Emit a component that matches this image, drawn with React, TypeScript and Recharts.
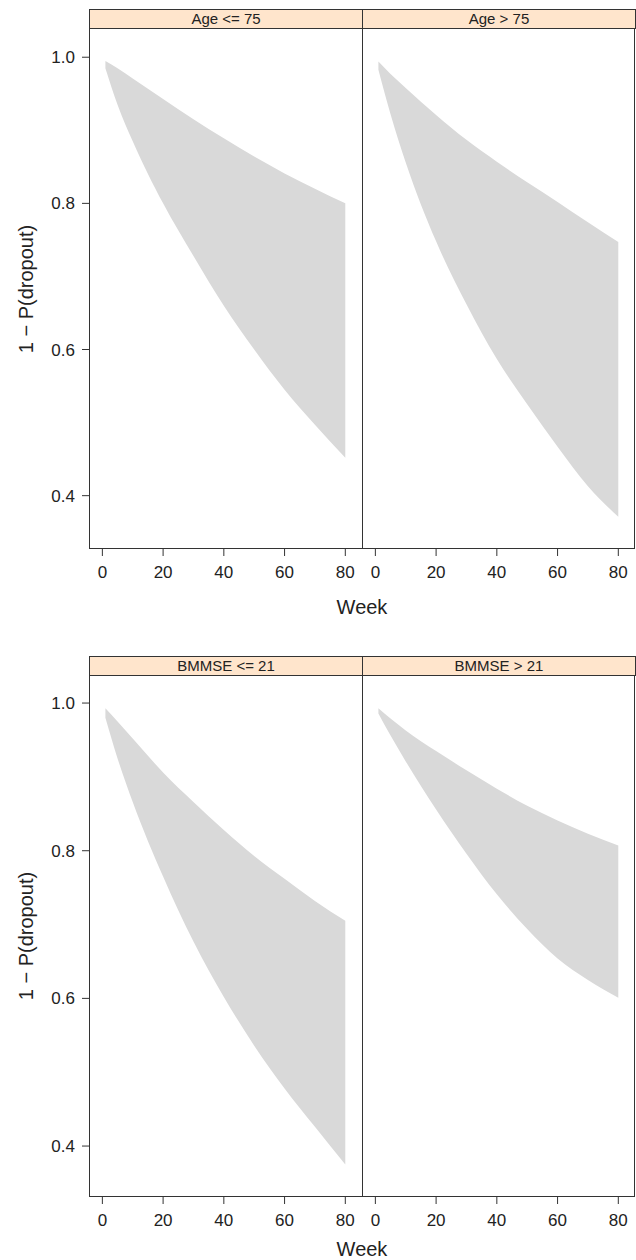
import { Area, AreaChart, XAxis, YAxis } from "recharts";

const weeks = [1, 5, 10, 20, 30, 40, 50, 60, 70, 80];

// Age <= 75
const ageLowUpper = [0.995, 0.985, 0.971, 0.943, 0.915, 0.889, 0.864, 0.841, 0.82, 0.8];
const ageLowLower = [0.985, 0.935, 0.885, 0.8, 0.728, 0.66, 0.6, 0.545, 0.497, 0.452];
// Age > 75
const ageHighUpper = [0.994, 0.977, 0.958, 0.921, 0.887, 0.857, 0.829, 0.802, 0.774, 0.747];
const ageHighLower = [0.983, 0.922, 0.856, 0.748, 0.662, 0.587, 0.525, 0.467, 0.413, 0.371];
// BMMSE <= 21
const bmLowUpper = [0.993, 0.975, 0.952, 0.906, 0.866, 0.828, 0.793, 0.762, 0.732, 0.705];
const bmLowLower = [0.98, 0.925, 0.866, 0.765, 0.677, 0.602, 0.536, 0.478, 0.426, 0.375];
// BMMSE > 21
const bmHighUpper = [0.993, 0.979, 0.963, 0.935, 0.909, 0.884, 0.861, 0.841, 0.823, 0.807];
const bmHighLower = [0.986, 0.956, 0.921, 0.856, 0.796, 0.741, 0.694, 0.654, 0.625, 0.601];

const xTicks = [0, 20, 40, 60, 80];
const yTicks = [0.4, 0.6, 0.8, 1.0];

const FONT = "'Liberation Sans', Arial, Helvetica, sans-serif";
const INK = "#222";
const BORDER = "#333";

const toBand = (lower: number[], upper: number[]) =>
  weeks.map((week, i) => ({ week, band: [lower[i], upper[i]] }));

const PANEL_L = 89;
const PANEL_MID = 362;
const PANEL_R = 635;

type PanelProps = {
  left: number;
  top: number;
  width: number;
  height: number;
  lower: number[];
  upper: number[];
  yDomain: [number, number];
  showY: boolean;
};

const Panel = ({ left, top, width, height, lower, upper, yDomain, showY }: PanelProps) => {
  const axisW = showY ? PANEL_L : 0;
  return (
    <div style={{ position: "absolute", left: left - axisW, top }}>
      <AreaChart
        width={width + axisW}
        height={height + 40}
        data={toBand(lower, upper)}
        margin={{ top: 0, right: 0, bottom: 0, left: 0 }}
      >
        <XAxis
          type="number"
          dataKey="week"
          domain={[-4.4, 85.5]}
          ticks={xTicks}
          interval={0}
          allowDataOverflow
          height={40}
          tickSize={7}
          tickMargin={10}
          axisLine={false}
          tickLine={{ stroke: BORDER }}
          tick={{ fill: INK, fontSize: 17, fontFamily: FONT }}
        />
        <YAxis
          type="number"
          domain={yDomain}
          ticks={yTicks}
          allowDataOverflow
          hide={!showY}
          width={axisW}
          tickSize={7}
          tickMargin={7}
          axisLine={false}
          tickLine={{ stroke: BORDER }}
          tickFormatter={(v: number) => v.toFixed(1)}
          tick={{ fill: INK, fontSize: 17, fontFamily: FONT }}
        />
        <Area
          type="monotone"
          dataKey="band"
          fill="#d9d9d9"
          fillOpacity={1}
          stroke="none"
          isAnimationActive={false}
        />
      </AreaChart>
    </div>
  );
};

const Strip = ({ left, top, width, label }: { left: number; top: number; width: number; label: string }) => (
  <div
    style={{
      position: "absolute",
      left,
      top,
      width: width + 1,
      height: 20,
      boxSizing: "border-box",
      border: `1px solid ${BORDER}`,
      background: "#ffe5cc",
      fontFamily: FONT,
      fontSize: 15,
      lineHeight: "18px",
      textAlign: "center",
      color: INK,
    }}
  >
    {label}
  </div>
);

type GroupProps = {
  stripTop: number;
  panelTop: number;
  panelH: number;
  labels: [string, string];
  left: [number[], number[]];
  right: [number[], number[]];
  yDomain: [number, number];
  weekY: number;
};

const Group = ({ stripTop, panelTop, panelH, labels, left, right, yDomain, weekY }: GroupProps) => (
  <>
    <Panel
      left={PANEL_L}
      top={panelTop}
      width={PANEL_MID - PANEL_L}
      height={panelH}
      lower={left[0]}
      upper={left[1]}
      yDomain={yDomain}
      showY
    />
    <Panel
      left={PANEL_MID}
      top={panelTop}
      width={PANEL_R - PANEL_MID}
      height={panelH}
      lower={right[0]}
      upper={right[1]}
      yDomain={yDomain}
      showY={false}
    />
    <Strip left={PANEL_L} top={stripTop} width={PANEL_MID - PANEL_L} label={labels[0]} />
    <Strip left={PANEL_MID} top={stripTop} width={PANEL_R - PANEL_MID} label={labels[1]} />
    {/* panel boxes */}
    <div
      style={{
        position: "absolute",
        left: PANEL_L,
        top: panelTop,
        width: PANEL_MID - PANEL_L + 1,
        height: panelH,
        boxSizing: "border-box",
        border: `1px solid ${BORDER}`,
      }}
    />
    <div
      style={{
        position: "absolute",
        left: PANEL_MID,
        top: panelTop,
        width: PANEL_R - PANEL_MID,
        height: panelH,
        boxSizing: "border-box",
        border: `1px solid ${BORDER}`,
      }}
    />
    <div
      style={{
        position: "absolute",
        left: PANEL_L,
        top: weekY - 12,
        width: PANEL_R - PANEL_L,
        height: 24,
        lineHeight: "24px",
        textAlign: "center",
        fontFamily: FONT,
        fontSize: 20,
        color: INK,
      }}
    >
      Week
    </div>
    <div
      style={{
        position: "absolute",
        left: 26 - 150,
        top: panelTop + panelH / 2 - 12,
        width: 300,
        height: 24,
        lineHeight: "24px",
        textAlign: "center",
        fontFamily: FONT,
        fontSize: 20,
        color: INK,
        transform: "rotate(-90deg)",
      }}
    >
      1 − P(dropout)
    </div>
  </>
);

const App = () => {
  return (
    <div style={{ position: "absolute", left: 0, top: 0, width: 636, height: 1260, background: "#fff" }}>
      <Group
        stripTop={9}
        panelTop={28}
        panelH={521}
        labels={["Age <= 75", "Age > 75"]}
        left={[ageLowLower, ageLowUpper]}
        right={[ageHighLower, ageHighUpper]}
        yDomain={[0.327, 1.04]}
        weekY={607}
      />
      <Group
        stripTop={656}
        panelTop={675}
        panelH={522}
        labels={["BMMSE <= 21", "BMMSE > 21"]}
        left={[bmLowLower, bmLowUpper]}
        right={[bmHighLower, bmHighUpper]}
        yDomain={[0.331, 1.038]}
        weekY={1249}
      />
    </div>
  );
};

export default App;
